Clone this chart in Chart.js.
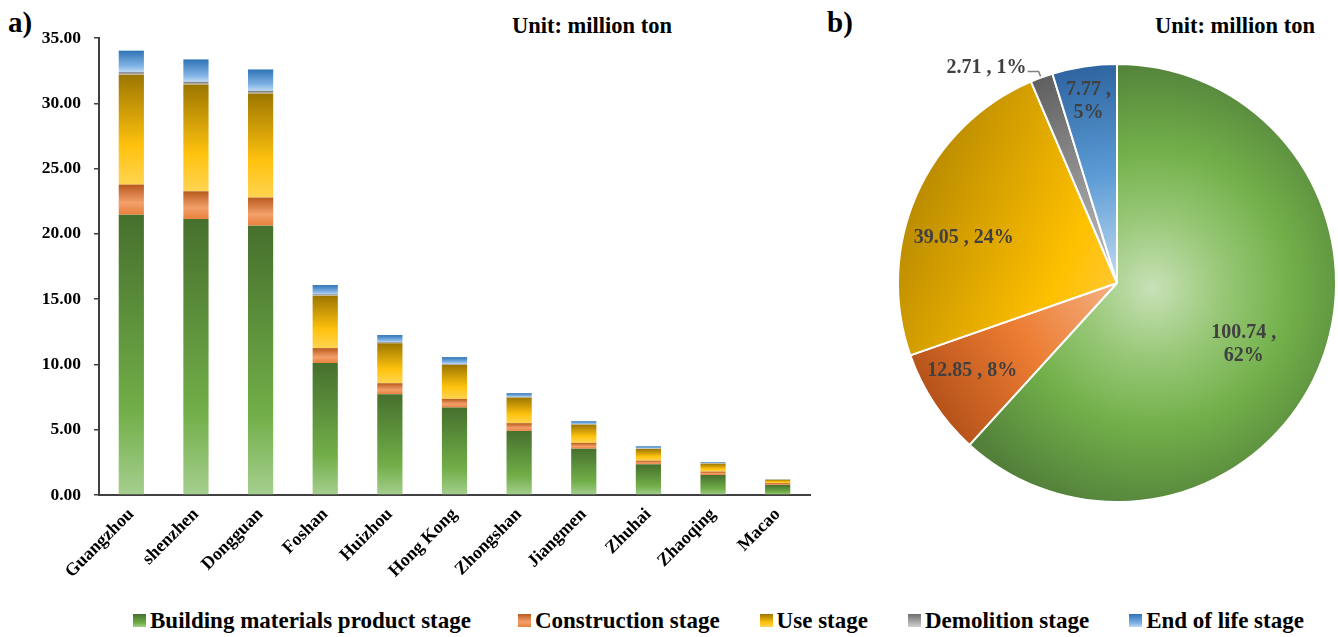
<!DOCTYPE html>
<html>
<head>
<meta charset="utf-8">
<title>Carbon emissions by stage</title>
<script src="https://cdn.jsdelivr.net/npm/chart.js@4.4.1/dist/chart.umd.min.js"></script>
<style>
  html, body { margin: 0; padding: 0; background: #fff; }
  body {
    width: 1338px; height: 637px; position: relative; overflow: hidden;
    font-family: "Liberation Serif", "Times New Roman", serif; font-weight: bold; color: #000;
  }
  #barWrap { position: absolute; left: 0; top: 0; width: 820px; height: 590px; }
  #pieWrap { position: absolute; left: 820px; top: 0; width: 518px; height: 520px; }
  .panel { position: absolute; font-size: 29px; line-height: 1; }
  .unit { position: absolute; font-size: 22.5px; line-height: 1; white-space: nowrap; }
  #legend { position: absolute; left: 133px; top: 609px; display: flex; align-items: center; font-size: 23px; line-height: 1; white-space: nowrap; }
  .item { display: flex; align-items: center; margin-right: 40px; }
  .item:first-child { margin-right: 47px; }
  .box { width: 13px; height: 13px; margin-right: 4px; }
</style>
</head>
<body>
<div class="panel" style="left:8px; top:8px;">a)</div>
<div class="panel" style="left:827px; top:8px;">b)</div>
<div class="unit" style="left:512px; top:15px;">Unit: million ton</div>
<div class="unit" style="left:1155px; top:15px;">Unit: million ton</div>
<div id="barWrap"><canvas id="barChart" width="820" height="590"></canvas></div>
<div id="pieWrap"><canvas id="pieChart" width="518" height="520"></canvas></div>
<div id="legend"></div>

<script>
// ---- data ----
const categories = ['Guangzhou', 'shenzhen', 'Dongguan', 'Foshan', 'Huizhou', 'Hong Kong',
                    'Zhongshan', 'Jiangmen', 'Zhuhai', 'Zhaoqing', 'Macao'];
const stageNames = ['Building materials product stage', 'Construction stage', 'Use stage',
                    'Demolition stage', 'End of life stage'];

const productStage      = [21.47, 21.14, 20.63, 10.10, 7.72, 6.70, 4.91, 3.55, 2.35, 1.53, 0.77];
const constructionStage = [2.30, 2.12, 2.15, 1.15, 0.84, 0.66, 0.59, 0.44, 0.28, 0.26, 0.15];
const useStage          = [8.41, 8.18, 7.97, 4.01, 3.07, 2.61, 1.96, 1.40, 0.90, 0.61, 0.25];
const demolitionStage   = [0.20, 0.20, 0.20, 0.10, 0.07, 0.06, 0.05, 0.04, 0.03, 0.02, 0.01];
const endOfLifeStage    = [1.65, 1.72, 1.64, 0.72, 0.55, 0.53, 0.29, 0.22, 0.17, 0.09, 0.02];

const yTicks = [0, 5, 10, 15, 20, 25, 30, 35];

const pieValues = [100.74, 12.85, 39.05, 2.71, 7.77];
const pieShares = [62, 8, 24, 1, 5];

// ---- styles ----
const fontFamily = '"Liberation Serif", "Times New Roman", serif';
const stackSeries = [productStage, constructionStage, useStage, demolitionStage, endOfLifeStage];
const solidColors = ['#70ad47', '#ed7d31', '#ffc000', '#a5a5a5', '#5b9bd5'];
// vertical gradient for each bar segment, top -> bottom
const barStops = [
  [[0, '#46702d'], [0.7, '#71ae48'], [1, '#a5cf8e']],
  [[0, '#b85a1e'], [0.6, '#f4a06a'], [1, '#e8813e']],
  [[0, '#9c7600'], [0.65, '#ffc20e'], [1, '#ffd452']],
  [[0, '#6e6e6e'], [1, '#d0d0d0']],
  [[0, '#2f73b5'], [0.7, '#7fb2e5'], [1, '#c0daf2']]
];
// pie slice gradient: outer rim -> centre
const pieStops = [
  null,
  [[0, '#b5521a'], [0.5, '#ec7c32'], [1, '#f4b183']],
  [[0, '#bb8c00'], [0.75, '#ffc000'], [1, '#ffc830']],
  [[0, '#5f5f5f'], [1, '#c4c4c4']],
  [[0, '#2e64a0'], [0.5, '#5b9bd5'], [1, '#c5dcf2']]
];
const pieLabelRadius = [0.64, 0.77, 0.72, null, 0.84];
const pieLabelShift = [[-4, 10], [-4, -5], [-9, 18], [0, 0], [-1, 0]];
const pieLabelWrap = [true, false, false, false, true];

function barFill(ctx) {
  const chart = ctx.chart;
  const y = chart.scales.y;
  const d = ctx.datasetIndex;
  if (ctx.type !== 'data' || !chart.chartArea || !y) return solidColors[d];
  let base = 0;
  for (let k = 0; k < d; k++) base += stackSeries[k][ctx.dataIndex];
  const top = base + stackSeries[d][ctx.dataIndex];
  const y0 = y.getPixelForValue(top);
  const y1 = y.getPixelForValue(base);
  if (!(y1 - y0 > 0.5)) return solidColors[d];
  const g = chart.ctx.createLinearGradient(0, y0, 0, y1);
  barStops[d].forEach(([o, c]) => g.addColorStop(o, c));
  return g;
}

function pieFill(ctx) {
  const chart = ctx.chart;
  const a = chart.chartArea;
  const i = ctx.dataIndex;
  if (ctx.type !== 'data' || !a) return solidColors[i];
  const cx = (a.left + a.right) / 2, cy = (a.top + a.bottom) / 2;
  const r = Math.min(a.width, a.height) / 2;
  if (i === 0) {
    const g = chart.ctx.createRadialGradient(cx + 35, cy + 5, 0, cx + 35, cy + 5, r * 1.05);
    g.addColorStop(0, '#c8e1b6');
    g.addColorStop(0.3, '#99c878');
    g.addColorStop(0.6, '#72b04a');
    g.addColorStop(1, '#52803a');
    return g;
  }
  const total = pieValues.reduce((s, v) => s + v, 0);
  let before = 0;
  for (let k = 0; k < i; k++) before += pieValues[k];
  const mid = -Math.PI / 2 + (before + pieValues[i] / 2) / total * Math.PI * 2;
  const g = chart.ctx.createLinearGradient(cx + Math.cos(mid) * r, cy + Math.sin(mid) * r, cx, cy);
  pieStops[i].forEach(([o, c]) => g.addColorStop(o, c));
  return g;
}

// ---- bar chart ----
new Chart(document.getElementById('barChart'), {
  type: 'bar',
  data: {
    labels: categories,
    datasets: stageNames.map((name, d) => ({
      label: name,
      data: stackSeries[d],
      backgroundColor: barFill,
      borderWidth: 0,
      barPercentage: 0.39,
      categoryPercentage: 1
    }))
  },
  options: {
    responsive: false,
    animation: false,
    layout: { padding: { top: 38, right: 10, left: 0, bottom: 0 } },
    plugins: { legend: { display: false }, tooltip: { enabled: false } },
    scales: {
      x: {
        stacked: true,
        grid: { display: false, drawTicks: false },
        border: { display: true, color: '#404040', width: 2 },
        ticks: {
          autoSkip: false, minRotation: 45, maxRotation: 45, padding: 9,
          color: '#000', font: { family: fontFamily, size: 18, weight: 'bold' }
        },
        afterFit: scale => { scale.height = 95; }
      },
      y: {
        stacked: true,
        min: 0, max: 35,
        afterBuildTicks: scale => { scale.ticks = yTicks.map(v => ({ value: v })); },
        grid: { drawOnChartArea: false, drawTicks: true, tickLength: 5, color: '#404040', lineWidth: 1.5 },
        border: { display: true, color: '#404040', width: 2 },
        ticks: {
          padding: 13, color: '#000',
          font: { family: fontFamily, size: 17.5, weight: 'bold' },
          callback: v => Number(v).toFixed(2)
        },
        afterFit: scale => { scale.width = 99; }
      }
    }
  }
});

// ---- pie chart ----
const pieLabels = {
  id: 'pieLabels',
  afterDatasetsDraw(chart) {
    const c = chart.ctx;
    const arcs = chart.getDatasetMeta(0).data;
    c.save();
    c.font = 'bold 20px ' + fontFamily;
    c.fillStyle = '#404040';
    c.textBaseline = 'middle';
    arcs.forEach((arc, i) => {
      const { x, y, startAngle, endAngle, outerRadius } =
        arc.getProps(['x', 'y', 'startAngle', 'endAngle', 'outerRadius'], true);
      const mid = (startAngle + endAngle) / 2;
      const value = pieValues[i].toFixed(2);
      const share = pieShares[i] + '%';
      const f = pieLabelRadius[i];
      if (f) {
        const lx = x + Math.cos(mid) * outerRadius * f + pieLabelShift[i][0];
        const ly = y + Math.sin(mid) * outerRadius * f + pieLabelShift[i][1];
        c.textAlign = 'center';
        if (pieLabelWrap[i]) {
          c.fillText(value + ' ,', lx, ly - 11);
          c.fillText(share, lx, ly + 12);
        } else {
          c.fillText(value + ' , ' + share, lx, ly);
        }
      } else {
        // small slice: label outside with a leader line
        const ex = x + Math.cos(mid) * outerRadius;
        const ey = y + Math.sin(mid) * outerRadius;
        c.strokeStyle = '#7f7f7f';
        c.lineWidth = 1.5;
        c.beginPath();
        c.moveTo(ex - 14, ey - 6);
        c.lineTo(ex - 3, ey - 6);
        c.lineTo(ex - 1, ey - 1);
        c.stroke();
        c.textAlign = 'right';
        c.fillText(value + ' , ' + share, ex - 15, ey - 10);
      }
    });
    c.restore();
  }
};

new Chart(document.getElementById('pieChart'), {
  type: 'pie',
  data: {
    labels: stageNames,
    datasets: [{
      data: pieValues,
      backgroundColor: pieFill,
      borderColor: '#ffffff',
      borderWidth: 2
    }]
  },
  options: {
    responsive: false,
    animation: false,
    layout: { padding: { left: 77, right: 1, top: 63, bottom: 17 } },
    plugins: { legend: { display: false }, tooltip: { enabled: false } }
  },
  plugins: [pieLabels]
});

// ---- shared legend ----
const legend = document.getElementById('legend');
stageNames.forEach((name, d) => {
  const item = document.createElement('div');
  item.className = 'item';
  const box = document.createElement('span');
  box.className = 'box';
  box.style.background = 'linear-gradient(to bottom, ' +
    barStops[d].map(([o, c]) => c + ' ' + Math.round(o * 100) + '%').join(', ') + ')';
  const text = document.createElement('span');
  text.textContent = name;
  item.appendChild(box);
  item.appendChild(text);
  legend.appendChild(item);
});
</script>
</body>
</html>
